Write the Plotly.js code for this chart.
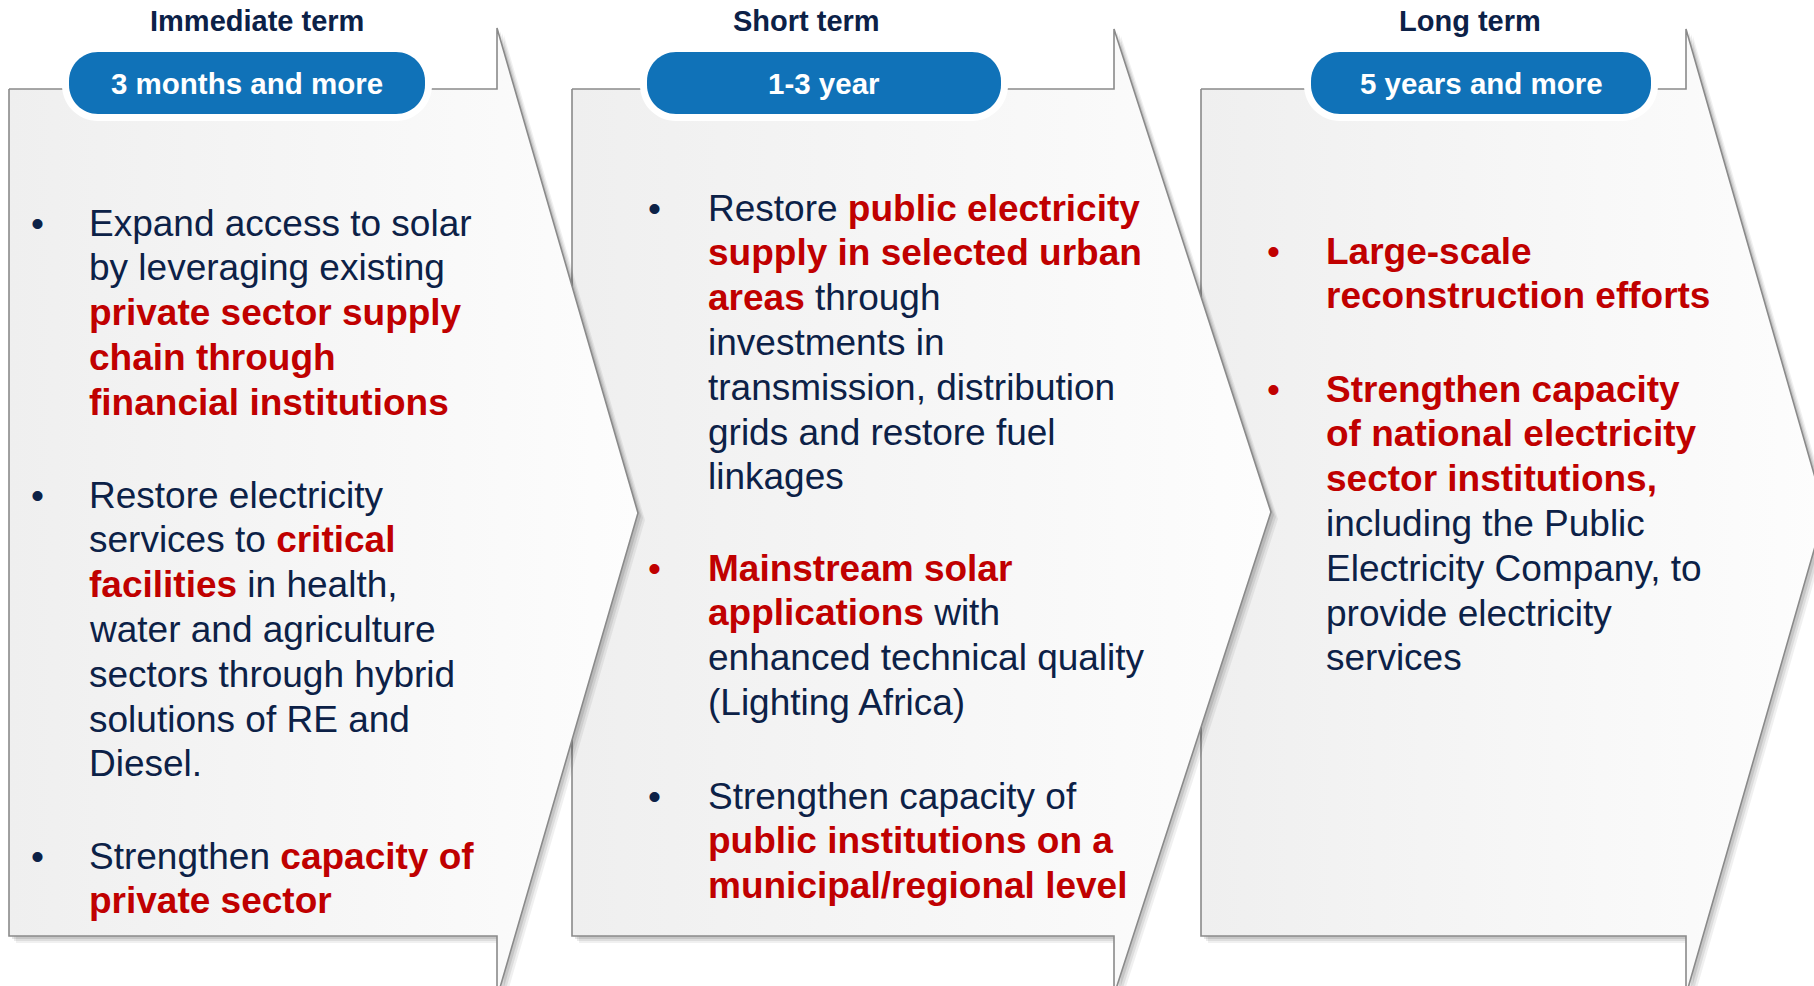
<!DOCTYPE html>
<html>
<head>
<meta charset="utf-8">
<script src="https://cdn.plot.ly/plotly-3.0.1.min.js"></script>
<style>html,body{margin:0;padding:0;background:#fff;}#chart{width:1814px;height:986px;}</style>
</head>
<body>
<div id="chart"></div>
<script>
// ---- content ----
const termTitles = ['Immediate term', 'Short term', 'Long term'];
const periodLabels = ['3 months and more', '1-3 year', '5 years and more'];

const R = s => '<b><span style="color:#C00000">' + s + '</span></b>';

const immediateBullets = [
  ['Expand access to solar', 'by leveraging existing', R('private sector supply'), R('chain through'), R('financial institutions')],
  ['Restore electricity', 'services to ' + R('critical'), R('facilities') + ' in health,', 'water and agriculture', 'sectors through hybrid', 'solutions of RE and', 'Diesel.'],
  ['Strengthen ' + R('capacity of'), R('private sector')]
];
const shortBullets = [
  ['Restore ' + R('public electricity'), R('supply in selected urban'), R('areas') + ' through', 'investments in', 'transmission, distribution', 'grids and restore fuel', 'linkages'],
  [R('Mainstream solar'), R('applications') + ' with', 'enhanced technical quality', '(Lighting Africa)'],
  ['Strengthen capacity of', R('public institutions on a'), R('municipal/regional level')]
];
const longBullets = [
  [R('Large-scale'), R('reconstruction efforts')],
  [R('Strengthen capacity'), R('of national electricity'), R('sector institutions,'), 'including the Public', 'Electricity Company, to', 'provide electricity', 'services']
];
const immediateBulletColors = ['navy', 'navy', 'navy'];
const shortBulletColors = ['navy', 'red', 'navy'];
const longBulletColors = ['red', 'red'];

// ---- layout geometry (pixels) ----
const W = 1814, H = 986;
const NAVY = '#0c2147', RED = '#C00000', BLUE = '#1072B8';
const FONT = 'Liberation Sans, Arial, sans-serif';
const boxTop = 89, boxBottom = 936;
const panels = [
  {left: 9,    notch: 497,  tip: 638,  tipTop: 28, tipY: 513, pill: [69, 425],   titleX: 257,
   textX: 87, bulletX: 37, firstY: [223, 495, 856], bullets: immediateBullets, colors: immediateBulletColors},
  {left: 572,  notch: 1114, tip: 1271, tipTop: 29, tipY: 512, pill: [647, 1001],  titleX: 806,
   textX: 706, bulletX: 654, firstY: [208, 568, 796], bullets: shortBullets, colors: shortBulletColors},
  {left: 1201, notch: 1686, tip: 1825, tipTop: 29, tipY: 512, pill: [1311, 1651], titleX: 1470,
   textX: 1324, bulletX: 1273, firstY: [251, 389], bullets: longBullets, colors: longBulletColors}
];
const lineH = 44.8;
const pillTop = 52, pillBot = 114;

function panelPts(p, dx, dy) {
  const tipBot = 2 * p.tipY - p.tipTop;
  const xs = [p.left, p.notch, p.notch, p.tip, p.notch, p.notch, p.left, p.left];
  const ys = [boxTop, boxTop, p.tipTop, p.tipY, tipBot, boxBottom, boxBottom, boxTop];
  return {x: xs.map(v => v + dx), y: ys.map(v => v + dy)};
}

const traces = [];
// draw right-most first so earlier chevrons overlap later ones
for (let i = panels.length - 1; i >= 0; i--) {
  const p = panels[i];
  [[7, 7, 0.06], [5, 5, 0.08], [3, 3, 0.10]].forEach(([dx, dy, a]) => {
    const s = panelPts(p, dx, dy);
    traces.push({x: s.x, y: s.y, mode: 'lines', fill: 'toself', line: {width: 0, color: 'rgba(0,0,0,0)'},
      fillcolor: 'rgba(0,0,0,' + a + ')', hoverinfo: 'skip', showlegend: false});
  });
  const s = panelPts(p, 0, 0);
  traces.push({x: s.x, y: s.y, mode: 'lines', fill: 'toself',
    line: {width: 1.6, color: '#8a8a8a'},
    fillgradient: {type: 'horizontal', start: p.left, stop: p.tip,
      colorscale: [[0, '#efefef'], [1, '#fdfdfd']]},
    hoverinfo: 'skip', showlegend: false});
}

function roundRect(x0, x1, y0, y1, r) {
  const k = 0.5523 * r;
  return `M ${x0 + r},${y0} L ${x1 - r},${y0} C ${x1 - r + k},${y0} ${x1},${y0 + r - k} ${x1},${y0 + r} ` +
    `L ${x1},${y1 - r} C ${x1},${y1 - r + k} ${x1 - r + k},${y1} ${x1 - r},${y1} ` +
    `L ${x0 + r},${y1} C ${x0 + r - k},${y1} ${x0},${y1 - r + k} ${x0},${y1 - r} ` +
    `L ${x0},${y0 + r} C ${x0},${y0 + r - k} ${x0 + r - k},${y0} ${x0 + r},${y0} Z`;
}

const shapes = [];
const annotations = [];
panels.forEach((p, i) => {
  const [x0, x1] = p.pill;
  shapes.push({type: 'path', xref: 'x', yref: 'y', layer: 'above',
    path: roundRect(x0 - 7, x1 + 7, pillTop - 7, pillBot + 7, 36), fillcolor: '#ffffff', line: {width: 0}});
  shapes.push({type: 'path', xref: 'x', yref: 'y', layer: 'above',
    path: roundRect(x0, x1, pillTop, pillBot, 29), fillcolor: BLUE, line: {width: 0}});
  annotations.push({x: p.titleX, y: 21, xref: 'x', yref: 'y', text: '<b>' + termTitles[i] + '</b>',
    showarrow: false, xanchor: 'center', yanchor: 'middle', font: {family: FONT, size: 29, color: NAVY}});
  annotations.push({x: (x0 + x1) / 2, y: (pillTop + pillBot) / 2, xref: 'x', yref: 'y', text: '<b>' + periodLabels[i] + '</b>',
    showarrow: false, xanchor: 'center', yanchor: 'middle', font: {family: FONT, size: 29.5, color: '#ffffff'}});
  p.bullets.forEach((lines, b) => {
    const y0 = p.firstY[b];
    annotations.push({x: p.bulletX, y: y0, xref: 'x', yref: 'y', text: '•', showarrow: false,
      xanchor: 'center', yanchor: 'middle', font: {family: FONT, size: 37, color: p.colors[b] === 'red' ? RED : NAVY}});
    lines.forEach((ln, j) => {
      annotations.push({x: p.textX, y: y0 + j * lineH, xref: 'x', yref: 'y', text: ln, showarrow: false,
        xanchor: 'left', yanchor: 'middle', font: {family: FONT, size: 37, color: NAVY}});
    });
  });
});

const layout = {
  width: W, height: H, margin: {l: 0, r: 0, t: 0, b: 0},
  paper_bgcolor: '#ffffff', plot_bgcolor: '#ffffff',
  xaxis: {range: [0, W], visible: false, fixedrange: true},
  yaxis: {range: [H, 0], visible: false, fixedrange: true},
  shapes: shapes, annotations: annotations, showlegend: false
};
Plotly.newPlot('chart', traces, layout, {displayModeBar: false, staticPlot: true});
</script>
</body>
</html>
